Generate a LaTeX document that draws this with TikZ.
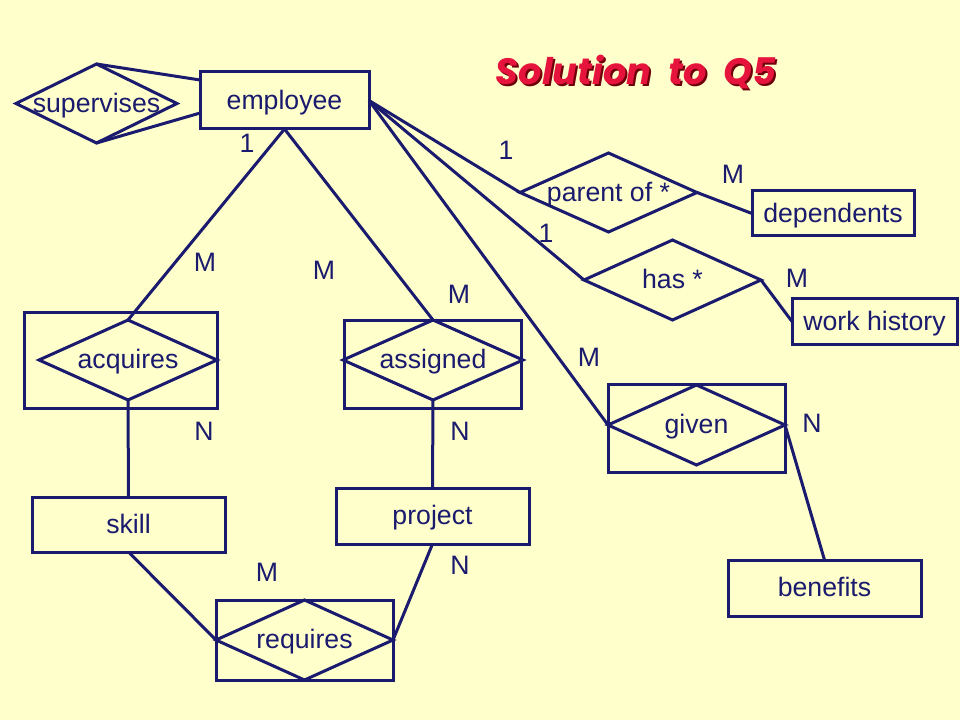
\documentclass[tikz,border=0pt]{standalone}
\usepackage{fontspec}
\setmainfont{Liberation Sans}
\newfontfamily\titlefont{Poppins}
\usetikzlibrary{shapes.geometric,calc}
\definecolor{bg}{RGB}{255,255,204}
\definecolor{navy}{RGB}{26,26,110}
\definecolor{ttl}{RGB}{230,20,60}
\definecolor{ttlshadow}{RGB}{110,0,10}
\begin{document}
\begin{tikzpicture}[x=0.75pt,y=-0.75pt,
  txt/.style={text=navy,font=\fontsize{20}{24}\selectfont},
  boxtxt/.style={txt,text height=14.5pt,text depth=1.5pt},
  ent/.style={draw=navy,line width=2.25pt,rectangle,inner sep=0pt,outer sep=0pt,boxtxt},
  rel/.style={draw=navy,line width=2.25pt,diamond,inner sep=0pt,outer sep=0pt,
              label={[boxtxt,inner sep=0pt]center:#1}},
  card/.style={txt,inner sep=0pt},
  link/.style={draw=navy,line width=2.25pt},
  ttlstyle/.style={font=\titlefont\fontsize{27.5}{32}\selectfont\bfseries\itshape,inner sep=0pt}]
\useasboundingbox[fill=bg] (0,0) rectangle (960,720);

% title
\node[ttlstyle,text=ttlshadow] (titleshadow) at (638,74) {Solution\ \ to\ \ Q5};
\node[ttlstyle,text=ttl] (title) at (636,72) {Solution\ \ to\ \ Q5};

% entities
\node[ent,minimum width=126.75pt,minimum height=42.75pt] (employee) at (284.5,100.5) {employee};
\node[ent,minimum width=144.75pt,minimum height=41.25pt] (skill) at (128.5,524.5) {skill};
\node[ent,minimum width=144.75pt,minimum height=42pt] (project) at (432.5,516) {project};
\node[ent,minimum width=121.5pt,minimum height=33.75pt] (dependents) at (833,213.5) {dependents};
\node[ent,minimum width=123.75pt,minimum height=33.75pt] (workhistory) at (874.5,321.5) {work history};
\node[ent,minimum width=144.75pt,minimum height=42pt] (benefits) at (824.5,588) {benefits};

% aggregation boxes
\node[ent,minimum width=144.75pt,minimum height=72pt] (acqbox) at (120.5,360) {};
\node[ent,minimum width=132.75pt,minimum height=66pt] (asgbox) at (432.5,364) {};
\node[ent,minimum width=132.75pt,minimum height=60pt] (reqbox) at (304.5,640) {};
\node[ent,minimum width=132.75pt,minimum height=66pt] (givbox) at (696.5,428) {};

% relationships
\node[rel=supervises,minimum width=120.75pt,minimum height=59.25pt] (supervises) at (96.5,103.5) {};
\node[rel={parent of *},minimum width=132.75pt,minimum height=59.25pt] (parent) at (608.5,192.5) {};
\node[rel={has *},minimum width=132.75pt,minimum height=60pt] (has) at (672.5,280) {};
\node[rel=acquires,minimum width=133.5pt,minimum height=60pt] (acquires) at (128,360) {};
\node[rel=assigned,minimum width=135pt,minimum height=60pt] (assigned) at (433,360) {};
\node[rel=requires,minimum width=132.75pt,minimum height=60pt] (requires) at (304.5,640) {};
\node[rel=given,minimum width=132.75pt,minimum height=60pt] (given) at (696.5,425) {};

% connectors
\draw[link] (supervises.north) -- ($(employee.north west)!0.14!(employee.south west)$);
\draw[link] (supervises.south) -- ($(employee.north west)!0.72!(employee.south west)$);
\draw[link] (employee.south) -- (acquires.north);
\draw[link] (employee.south) -- (assigned.north);
\draw[link] (employee.east) -- (parent.west);
\draw[link] (employee.east) -- (has.west);
\draw[link] (employee.east) -- (given.west);
\draw[link] (parent.east) -- (dependents.west);
\draw[link] (has.east) -- (workhistory.west);
\draw[link] (given.east) -- (benefits.north);
\draw[link] (acquires.south) -- (skill.north);
\draw[link] (assigned.south) -- (project.north);
\draw[link] (skill.south) -- (requires.west);
\draw[link] (project.south) -- (requires.east);

% cardinalities
\node[card] (c1) at (247,143) {1};
\node[card] (c2) at (205,262) {M};
\node[card] (c3) at (324,270) {M};
\node[card] (c4) at (459,294) {M};
\node[card] (c5) at (204,431) {N};
\node[card] (c6) at (460,431) {N};
\node[card] (c7) at (267,572) {M};
\node[card] (c8) at (460,565) {N};
\node[card] (c9) at (506,150) {1};
\node[card] (c10) at (733,174) {M};
\node[card] (c11) at (546,233) {1};
\node[card] (c12) at (797,278) {M};
\node[card] (c13) at (589,357) {M};
\node[card] (c14) at (812,423) {N};
\end{tikzpicture}
\end{document}
